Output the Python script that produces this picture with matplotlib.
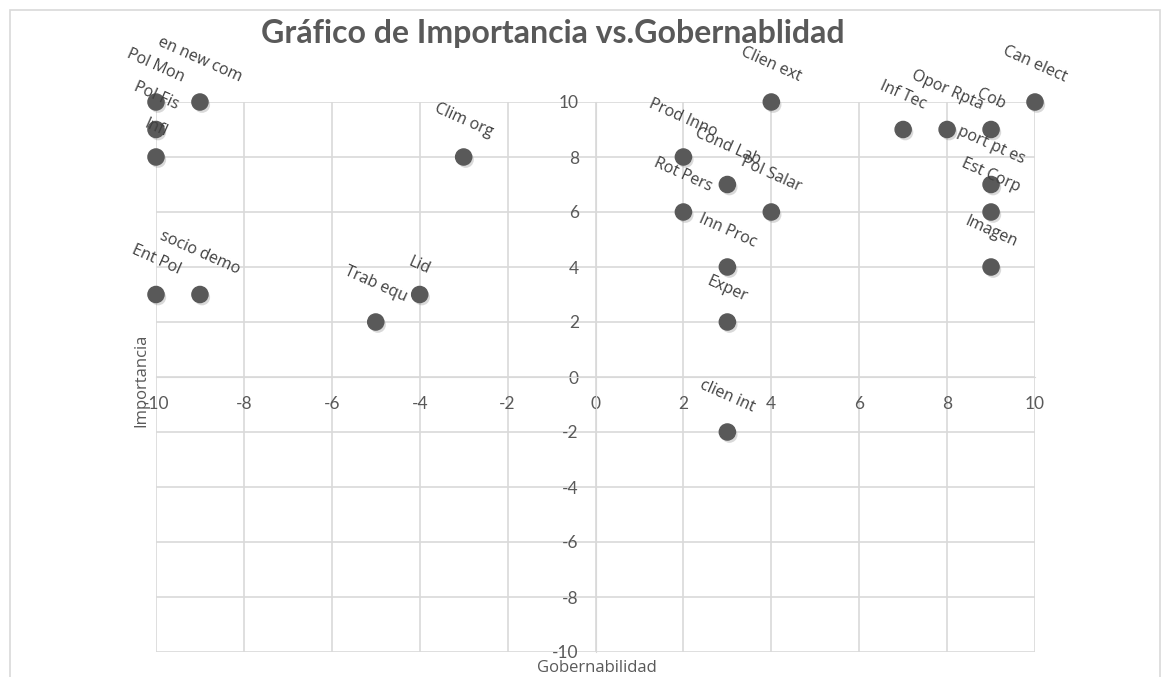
import matplotlib.pyplot as plt
import matplotlib.patheffects as pe
from matplotlib.patches import Rectangle

plt.rcParams['axes.unicode_minus'] = False

# Gobernabilidad (x) vs Importancia (y) for each factor
etiquetas = ['Pol Mon', 'en new com', 'Pol Fis', 'Infl', 'Ent Pol', 'socio demo',
             'Trab equ', 'Lid', 'Clim org', 'Prod Inno', 'Cond Lab', 'Clien ext',
             'Rot Pers', 'Pol Salar', 'Inn Proc', 'Exper', 'clien int', 'Inf Tec',
             'Opor Rpta', 'Cob', 'Can elect', 'port pt es', 'Est Corp', 'Imagen']
gobernabilidad = [-10, -9, -10, -10, -10, -9, -5, -4, -3, 2, 3, 4,
                  2, 4, 3, 3, 3, 7, 8, 9, 10, 9, 9, 9]
importancia = [10, 10, 9, 8, 3, 3, 2, 3, 8, 8, 7, 10,
               6, 6, 4, 2, -2, 9, 9, 9, 10, 7, 6, 4]

gris = '#595959'
fig = plt.figure(figsize=(11.71, 6.77), dpi=100)
fig.patches.append(Rectangle((10 / 1171, -0.1), 1150 / 1171, 1.1 - 10 / 677,
                             transform=fig.transFigure, fill=False,
                             edgecolor='#d9d9d9', lw=1.2))

ax = fig.add_axes([156 / 1171, 25 / 677, 879 / 1171, 550 / 677])
ax.set_xlim(-10, 10)
ax.set_ylim(-10, 10)
ax.set_xticks(range(-10, 11, 2))
ax.set_yticks(range(-10, 11, 2))
ax.grid(True, color='#d9d9d9', lw=1.2)
ax.set_axisbelow(True)
for s in ['top', 'right']:
    ax.spines[s].set_visible(False)
ax.spines['left'].set_position(('data', 0))
ax.spines['bottom'].set_position(('data', 0))
ax.spines['left'].set_color('#d9d9d9')
ax.spines['bottom'].set_color('#d9d9d9')
ax.tick_params(axis='both', length=0, labelsize=12.5, labelcolor=gris)
ax.tick_params(axis='y', pad=12)
ax.tick_params(axis='x', pad=14)
for lbl in ax.get_xticklabels() + ax.get_yticklabels():
    lbl.set_fontfamily('Lato')

sc = ax.scatter(gobernabilidad, importancia, s=135, color=gris, zorder=3, clip_on=False)
sc.set_path_effects([pe.SimplePatchShadow(offset=(1.5, -2), alpha=0.22, shadow_rgbFace='#555555'),
                     pe.Normal()])

for txt, x, y in zip(etiquetas, gobernabilidad, importancia):
    ax.annotate(txt, (x, y), xytext=(0, 12), textcoords='offset points',
                ha='center', va='bottom', rotation=-24, fontsize=11.5,
                color='#404040', family='Open Sans', zorder=4,
                annotation_clip=False)

fig.text(553 / 1171, 1 - 33 / 677, 'Gráfico de Importancia vs.Gobernablidad',
         ha='center', va='center', fontsize=23, fontweight='bold',
         color=gris, family='Lato')
fig.text(597 / 1171, 1 - 668 / 677, 'Gobernabilidad', ha='center', va='center',
         fontsize=12, color=gris, family='Open Sans')
fig.text(141 / 1171, 1 - 380 / 677, 'Importancia', ha='center', va='center',
         rotation=90, fontsize=12, color=gris, family='Open Sans')

plt.savefig('out.png', dpi=100)
